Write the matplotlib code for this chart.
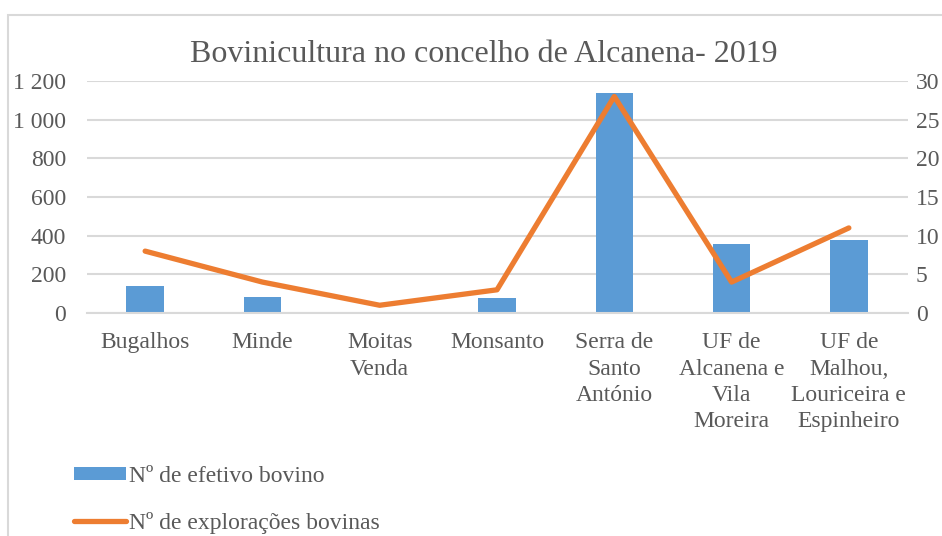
import matplotlib
matplotlib.use("Agg")
import matplotlib.pyplot as plt
from matplotlib.patches import Rectangle
from matplotlib.lines import Line2D
from matplotlib.patches import Patch

categories = ["Bugalhos", "Minde", "Moitas\nVenda", "Monsanto", "Serra de\nSanto\nAntónio",
              "UF de\nAlcanena e\nVila\nMoreira", "UF de\nMalhou,\nLouriceira e\nEspinheiro"]
efetivo = [140, 85, 0, 80, 1140, 355, 380]
exploracoes = [8, 4, 1, 3, 28, 4, 11]
left_ticks = [0, 200, 400, 600, 800, 1000, 1200]
left_labels = ["0", "200", "400", "600", "800", "1 000", "1 200"]
right_ticks = [0, 5, 10, 15, 20, 25, 30]
right_labels = ["0", "5", "10", "15", "20", "25", "30"]

W, H = 942, 536
plt.rcParams['font.family'] = ['Liberation Serif', 'DejaVu Serif']
txt = '#595959'
grid = '#D9D9D9'
fs = 17

fig = plt.figure(figsize=(W/100, H/100), dpi=100)
fig.patches.append(Rectangle((8/W, -0.2), 1.2, 1.2 - 15/H, transform=fig.transFigure,
                             fill=False, edgecolor=grid, linewidth=1.5))

ax = fig.add_axes([86.5/W, 1 - 313/H, (907.5-86.5)/W, (313-81)/H])
x = list(range(len(categories)))
ax.bar(x, efetivo, width=0.32, color='#5B9BD5', zorder=2)
ax.set_ylim(0, 1200)
ax.set_xlim(-0.5, len(categories) - 0.5)
ax.set_yticks(left_ticks)
ax.set_yticklabels(left_labels)
ax.set_xticks(x)
ax.set_xticklabels(categories, linespacing=1.32)
ax.grid(axis='y', color=grid, linewidth=1.5, zorder=0)
for s in ['top', 'right', 'left']:
    ax.spines[s].set_visible(False)
ax.spines['bottom'].set_color(grid)
ax.spines['bottom'].set_linewidth(1.5)
ax.tick_params(axis='y', length=0, pad=14.5, labelsize=fs, labelcolor=txt)
ax.tick_params(axis='x', length=0, pad=14, labelsize=fs, labelcolor=txt)

ax2 = ax.twinx()
ax2.plot(x, exploracoes, color='#ED7D31', linewidth=3.8, solid_capstyle='round', zorder=3)
ax2.set_ylim(0, 30)
ax2.set_yticks(right_ticks)
ax2.set_yticklabels(right_labels, ha='left')
ax2.tick_params(axis='y', length=0, pad=6, labelsize=fs, labelcolor=txt)
for s in ['top', 'right', 'left', 'bottom']:
    ax2.spines[s].set_visible(False)

fig.text(483.5/W, 1 - 54/H, "Bovinicultura no concelho de Alcanena- 2019",
         ha='center', va='center', fontsize=23, color=txt)

handles = [Patch(facecolor='#5B9BD5', edgecolor='none'),
           Line2D([0], [0], color='#ED7D31', linewidth=3.8, solid_capstyle='round')]
leg = fig.legend(handles, ["Nº de efetivo bovino", "Nº de explorações bovinas"],
                 loc='upper left', bbox_to_anchor=(74/W, 1 - 466/H), frameon=False,
                 fontsize=fs, handlelength=2.2, handleheight=0.5, handletextpad=0.15,
                 labelspacing=1.05, borderaxespad=0, borderpad=0)
for t in leg.get_texts():
    t.set_color(txt)

fig.savefig("out.png", dpi=100)
